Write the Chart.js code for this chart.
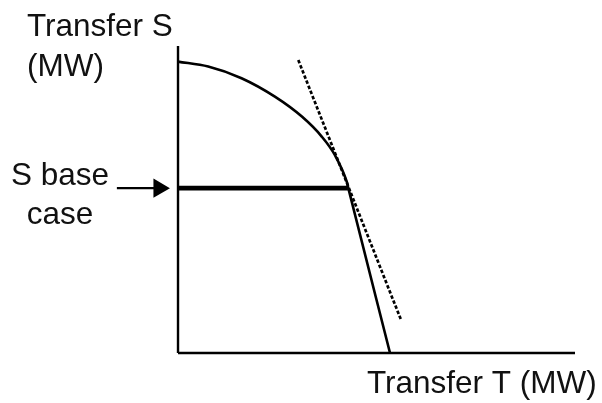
<!DOCTYPE html>
<html>
<head>
<meta charset="utf-8">
<script src="https://cdn.jsdelivr.net/npm/chart.js@4.4.1/dist/chart.umd.min.js"></script>
<style>
html,body{margin:0;padding:0;background:#fff;}
#wrap{width:602px;height:403px;position:relative;}
</style>
</head>
<body>
<div id="wrap"><canvas id="c" width="602" height="403"></canvas></div>
<script>
// Frontier curve (Transfer T, Transfer S) in arbitrary units 0..100
const curveT = [0, 7.6, 16.0, 24.4, 31.2, 36.2, 39.5, 42.5, 42.9, 53.4];
const curveS = [94.9, 93.3, 89.5, 83.5, 77.0, 70.5, 64.5, 55.8, 53.7, 0];
// Tangent (dashed) line at base case
const tangentT = [30.3, 56.2];
const tangentS = [95.4, 10.7];
// S base case level line
const baseT = [0, 42.8];
const baseS = [53.7, 53.7];
// Arrow pointing to base case (shaft start, head centre)
const arrowT = [-15.4, -4.8];
const arrowS = [53.7, 53.7];
// Axes
const xAxisT = [0, 100], xAxisS = [0, 0];
const yAxisT = [0, 0], yAxisS = [0, 100];
// Labels
const labelYAxis = ["Transfer S", "(MW)"];
const labelBase = ["S base", "case"];
const labelXAxis = "Transfer T (MW)";

const pts = (xs, ys) => xs.map((x, i) => ({x: x, y: ys[i]}));

const textPlugin = {
  id: 'labels',
  afterDraw(chart) {
    const ctx = chart.ctx;
    ctx.save();
    ctx.fillStyle = '#111';
    ctx.font = '31.5px "Liberation Sans", Arial, sans-serif';
    ctx.textBaseline = 'alphabetic';
    ctx.textAlign = 'left';
    ctx.fillText(labelYAxis[0], 27, 36);
    ctx.fillText(labelYAxis[1], 27, 76);
    ctx.textAlign = 'center';
    ctx.fillText(labelBase[0], 60, 185);
    ctx.fillText(labelBase[1], 60, 224);
    ctx.textAlign = 'left';
    ctx.fillText(labelXAxis, 367, 393);
    ctx.restore();
  }
};

const line = (data, w, extra) => Object.assign({
  data: data, showLine: true, borderColor: '#000', backgroundColor: '#000',
  borderWidth: w, pointRadius: 0, tension: 0, clip: false, fill: false
}, extra || {});

new Chart(document.getElementById('c'), {
  type: 'scatter',
  data: {
    datasets: [
      line(pts(xAxisT, xAxisS), 2.4),
      line(pts(yAxisT, yAxisS), 2.4),
      line(pts(curveT, curveS), 2.6, {cubicInterpolationMode: 'monotone'}),
      line(pts(tangentT, tangentS), 2.7, {borderDash: [3.5, 2]}),
      line(pts(baseT, baseS), 4.8),
      line(pts(arrowT, arrowS), 2.4, {
        pointRadius: [0, 11], pointStyle: 'triangle', pointRotation: 90,
        pointBorderWidth: 0, pointBackgroundColor: '#000'
      })
    ]
  },
  options: {
    responsive: false,
    animation: false,
    events: [],
    layout: {padding: 0, autoPadding: false},
    plugins: {legend: {display: false}, tooltip: {enabled: false}},
    scales: {
      x: {type: 'linear', display: false, bounds: 'data', min: -44.84, max: 106.8, ticks: {display: false}},
      y: {type: 'linear', display: false, bounds: 'data', min: -16.29, max: 114.98, ticks: {display: false}}
    }
  },
  plugins: [textPlugin]
});
</script>
</body>
</html>
